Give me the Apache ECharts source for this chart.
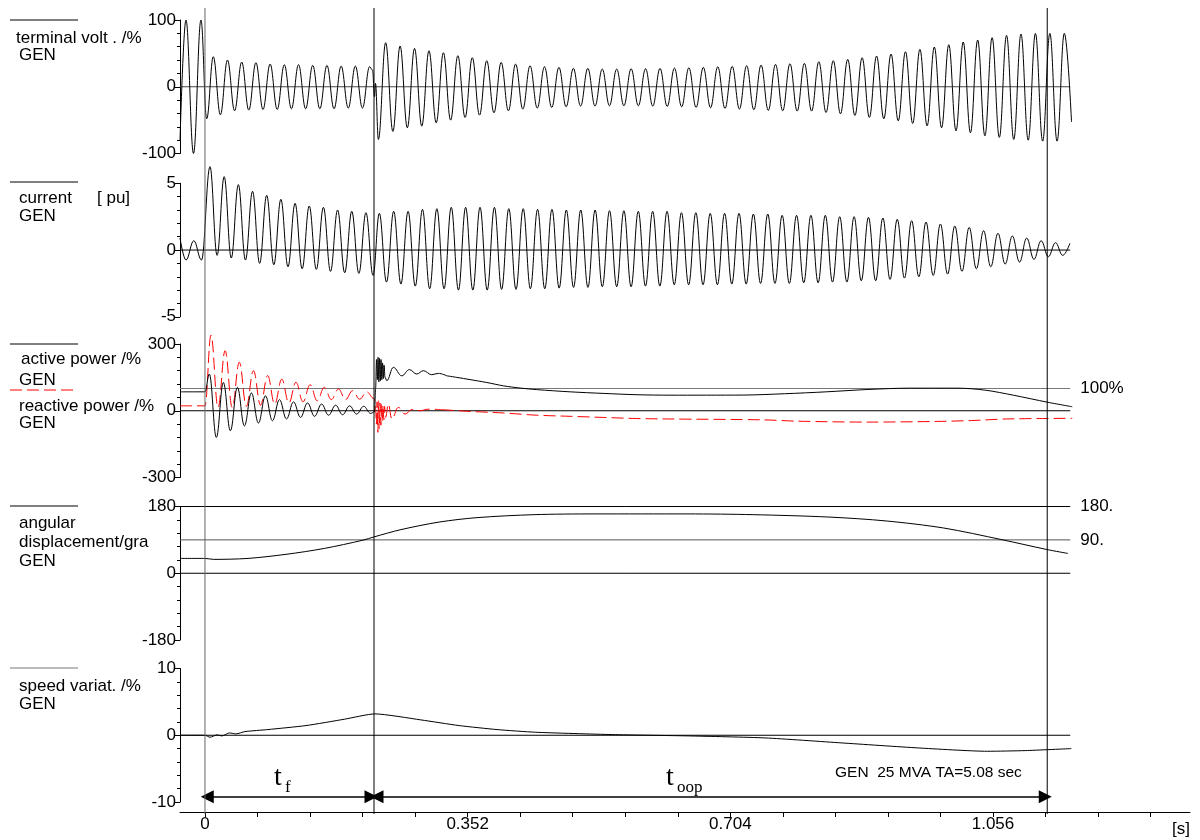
<!DOCTYPE html>
<html><head><meta charset="utf-8">
<script src="https://cdn.jsdelivr.net/npm/echarts@6/dist/echarts.min.js"></script>
<style>html,body{margin:0;padding:0;background:#fff}#c{width:1200px;height:840px}</style>
</head><body><div id="c"></div>
<script>
// ---------------- axis / tick data ----------------
const xLabelValues = [0, 0.352, 0.704, 1.056];
const xTickValues = [0, 0.0704, 0.1408, 0.2112, 0.2816, 0.352, 0.4224, 0.4928, 0.5632, 0.6336, 0.704, 0.7744, 0.8448, 0.9152, 0.9856, 1.056, 1.1264, 1.1968, 1.2672];
const yLimits = [100, 5, 300, 180, 10];
const eventTimes = [0, 0.2265, 1.1287];
const refEnd = 1.1595;
const tfSpan = [0.003, 0.2225];
const toopSpan = [0.2305, 1.126];
const arrowLevel = -9.2;

// ---------------- terminal voltage (%) ----------------
const voltPre = [[-0.0335,-80],[-0.0255,100],[-0.0154,-100],[-0.0054,100],[0.0023,-48]];
const voltFaultStart = 0.0111, voltFaultStep = 0.00952;
const voltFault = [45,-42,40,-36,37,-35,36,-34,34,-34,33,-33,33,-33,32,-33,32,-33,31,-32,31,-32,30];
const voltSwitch = [[0.2245,25],[0.2272,-15],[0.2285,5],[0.2323,-79]];
const voltPostStart = 0.2421, voltPostStep = 0.009675;
const voltPost = [66,-67,61,-61.5,57.5,-59,54,-54,51,-50,46.5,-46,43.5,-42.5,39,-39,36.5,-36,34,-33.5,
  31.5,-32,30,-31,29,-30,27.5,-29,27.5,-29,26.5,-28.5,26.5,-28.5,27,-28.5,27,-29,27.5,-29.5,
  28,-30,28.5,-31,29,-31.5,30,-32.5,30.5,-33.5,31.5,-34.5,32.5,-35.5,33.5,-36,34.5,-36.5,35,-36.5,
  37.5,-38.5,39,-40.5,41,-43,43.5,-46,46,-48,49,-51,52.5,-55,56,-58.5,59.5,-61.5,63,-66,
  67,-69,70,-73.5,73.5,-76,77,-79,79,-80,80,-81.5,80,-81.5,80,-52.5];

// ---------------- current (pu) ----------------
const curPre = [[-0.0335,0.9],[-0.0255,-0.75],[-0.0150,0.7],[-0.0047,-0.75]];
const curFaultStart = 0.0067, curFaultStep = 0.0095;
const curFault = [6.25,-0.4,5.5,-0.6,4.9,-0.75,4.4,-1.0,4.1,-1.1,3.8,-1.25,3.5,-1.4,3.3,-1.45,3.2,-1.6,3.0,-1.7,2.9,-1.75,2.8,-1.9];
const curPostStart = 0.2336, curPostStep = 0.00964;
const curPost = [2.75,-2.4,2.9,-2.55,2.9,-2.7,3.05,-2.9,3.1,-2.9,3.2,-3.0,3.2,-3.0,3.2,-3.0,3.2,-2.95,3.1,-2.95,
  3.1,-2.9,3.05,-2.9,3.05,-2.85,3.0,-2.8,3.0,-2.8,3.0,-2.75,2.95,-2.75,2.95,-2.75,2.9,-2.7,2.9,-2.7,
  2.9,-2.6,2.8,-2.6,2.8,-2.6,2.75,-2.6,2.75,-2.55,2.75,-2.55,2.7,-2.5,2.7,-2.5,2.6,-2.5,2.6,-2.45,
  2.6,-2.45,2.6,-2.4,2.5,-2.4,2.5,-2.3,2.45,-2.3,2.4,-2.2,2.3,-2.1,2.2,-2.0,2.1,-1.9,1.95,-1.8,
  1.8,-1.6,1.7,-1.4,1.45,-1.25,1.25,-1.05,1.05,-0.9,0.9,-0.7,0.7,-0.5,0.55,-0.4,0.5];

// ---------------- active power (%) ----------------
const actPre = [[-0.0335,85],[0,85]];
const actFaultStart = 0.0058, actFaultStep = 0.0094;
const actFault = [165,-120,127,-90,105,-68,80,-55,67,-45,50,-37,40,-30,35,-25,30,-20,25,-18,22,-15,20,-12];
const actOsc = [[0.2272,-5],[0.2286,100],[0.2299,230],[0.2310,140],[0.2319,240],[0.2330,130],[0.2339,235],[0.2350,135],
  [0.2359,230],[0.2370,140],[0.2379,215],[0.2390,145],[0.2399,205],[0.2413,150],[0.2436,135],[0.2524,195],
  [0.2637,157],[0.2739,185],[0.2838,165],[0.2926,180],[0.3039,162],[0.3127,168],[0.3240,157]];
const actSlow = [[0.3240,157],[0.3374,150],[0.3552,140],[0.3776,127],[0.3999,112],[0.4223,102],[0.4446,95],
  [0.4893,85],[0.5335,78],[0.5791,72],[0.6233,70],[0.7212,70.5],[0.7769,76.5],[0.8324,85],[0.8883,95.6],
  [0.9437,101.5],[1.0090,101.5],[1.0456,92.6],[1.0831,70],[1.1296,38],[1.1622,18]];

// ---------------- reactive power (%) ----------------
const reaPre = [[-0.0335,22],[0,22]];
const reaFaultStart = 0.008, reaFaultStep = 0.00949;
const reaFault = [340,15,270,15,218,20,180,25,158,30,142,35,128,40,117,45,105,50,98,50,90,52,85,55];
const reaOsc = [[0.2272,50],[0.2286,10],[0.2297,-60],[0.2306,40],[0.2316,-97],[0.2326,45],[0.2336,-80],[0.2346,35],
  [0.2357,-65],[0.2366,30],[0.2377,-50],[0.2386,25],[0.2397,-40],[0.2406,20],[0.2420,-30],[0.2457,30],
  [0.2503,-37],[0.2591,15],[0.2681,-15],[0.2771,5],[0.2882,0],[0.2993,7],[0.3173,5]];
const reaSlow = [[0.3173,5],[0.3552,-3],[0.3999,-10],[0.4446,-20],[0.4893,-25],[0.5339,-30],[0.5787,-35],
  [0.6233,-37],[0.7493,-41],[0.7949,-47],[0.8887,-51],[0.9812,-48],[1.0275,-44],[1.0737,-37],[1.1622,-34]];

// ---------------- angular displacement (deg) ----------------
const angData = [[-0.0335,40],[0,40],[0.0117,37.4],[0.0576,40],[0.1086,51],[0.1601,67],[0.2113,89],[0.2265,98],
  [0.2625,117.6],[0.3137,138],[0.3646,150],[0.4410,158],[0.5228,160],[0.6472,160],[0.7342,158],[0.8365,151.5],
  [0.9129,141],[0.9899,122],[1.0668,91],[1.1282,64],[1.1563,53.5]];

// ---------------- speed variation (%) ----------------
const spdData = [[-0.0335,0],[0,0],[0.0067,-0.3],[0.0161,0.05],[0.0228,-0.1],[0.0328,0.35],[0.0416,0.2],[0.0536,0.55],
  [0.0842,0.85],[0.1354,1.45],[0.1867,2.4],[0.2277,3.2],[0.2893,2.3],[0.3405,1.45],[0.3914,0.85],[0.4432,0.45],
  [0.5456,0.1],[0.6483,-0.1],[0.7507,-0.4],[0.8534,-1.15],[0.9558,-1.9],[1.0483,-2.4],[1.0992,-2.3],[1.1609,-2.0]];

// ---------------- chart ----------------
const FONT = '"Liberation Sans", Arial, sans-serif';
const SERIF = '"Liberation Serif", "Times New Roman", serif';
const X_MIN = -0.0335, X_MAX = 1.32;
const GRID_TOPS = [20, 183.3, 344, 506.5, 668.5];
const GRID_H = 133.5;

function wave(t0, dt, vals) { return vals.map((v, i) => [+(t0 + i * dt).toFixed(5), v]); }

const voltData = voltPre.concat(wave(voltFaultStart, voltFaultStep, voltFault), voltSwitch, wave(voltPostStart, voltPostStep, voltPost));
const curData = curPre.concat(wave(curFaultStart, curFaultStep, curFault), wave(curPostStart, curPostStep, curPost));
const actOscData = actPre.concat(wave(actFaultStart, actFaultStep, actFault), actOsc);
const reaOscData = reaPre.concat(wave(reaFaultStart, reaFaultStep, reaFault), reaOsc);

const chart = echarts.init(document.getElementById('c'), null, {renderer: 'canvas'});

const grids = GRID_TOPS.map(t => ({left: 180, right: 10, top: t, height: GRID_H}));
const xAxes = GRID_TOPS.map((t, i) => {
  if (i < 4) return {gridIndex: i, type: 'value', min: X_MIN, max: X_MAX, show: false};
  return {
    gridIndex: i, type: 'value', min: X_MIN, max: X_MAX, offset: 10,
    axisLine: {show: true, onZero: false, lineStyle: {color: '#000', width: 1}},
    axisTick: {show: true, length: 5, customValues: xTickValues, lineStyle: {color: '#000'}},
    axisLabel: {show: true, customValues: xLabelValues, fontSize: 17, color: '#000', fontFamily: FONT, margin: 4},
    splitLine: {show: false}
  };
});
const yAxes = yLimits.map((lim, i) => ({
  gridIndex: i, type: 'value', min: -lim, max: lim, interval: lim,
  axisLine: {show: true, onZero: false, lineStyle: {color: '#000', width: 1}},
  axisTick: {show: true, length: 5, lineStyle: {color: '#000'}},
  minorTick: {show: true, splitNumber: 5, length: 3, lineStyle: {color: '#000'}},
  splitLine: {show: false}, minorSplitLine: {show: false},
  axisLabel: {fontSize: 17, color: '#000', fontFamily: FONT, margin: 4}
}));

function refLine(i, v, color, label) {
  const s = {
    type: 'line', xAxisIndex: i, yAxisIndex: i, data: [[X_MIN, v], [refEnd, v]],
    symbol: 'none', silent: true, lineStyle: {color: color, width: 1}, z: 1
  };
  if (label) s.endLabel = {show: true, formatter: label, distance: 10, fontSize: 17, color: '#000', fontFamily: FONT};
  return s;
}
function sig(i, data, opts) {
  return Object.assign({
    type: 'line', xAxisIndex: i, yAxisIndex: i, data: data, symbol: 'none', silent: true, clip: false,
    smooth: 0.4, smoothMonotone: 'x', lineStyle: {color: '#000', width: 1}, z: 3
  }, opts || {});
}
const redDash = {color: '#ff0000', width: 1, type: [12, 5]};

const series = [
  refLine(0, 0, '#444'),
  sig(0, voltData),
  refLine(1, 0, '#000'),
  sig(1, curData),
  refLine(2, 100, '#777', '100%'),
  refLine(2, 0, '#000'),
  sig(2, reaOscData, {lineStyle: redDash}),
  sig(2, reaSlow, {lineStyle: redDash, smooth: 0.3, smoothMonotone: null}),
  sig(2, actOscData),
  sig(2, actSlow, {smooth: 0.3, smoothMonotone: null}),
  refLine(3, 180, '#000', '180.'),
  refLine(3, 90, '#555', '90.'),
  refLine(3, 0, '#000'),
  sig(3, angData, {smooth: 0.3, smoothMonotone: null}),
  refLine(4, 0, '#000'),
  sig(4, spdData, {smooth: 0.2, smoothMonotone: null,
    markLine: {
      silent: true, symbol: ['triangle', 'triangle'], symbolSize: 13, label: {show: false},
      lineStyle: {color: '#000', width: 1.5, type: 'solid'},
      data: [
        [{coord: [tfSpan[0], arrowLevel]}, {coord: [tfSpan[1], arrowLevel]}],
        [{coord: [toopSpan[0], arrowLevel]}, {coord: [toopSpan[1], arrowLevel]}]
      ]
    }})
];

function txt(x, y, s, extra) {
  return {type: 'text', x: x, y: y, silent: true,
    style: Object.assign({text: s, fill: '#000', font: '17px ' + FONT, textVerticalAlign: 'middle'}, extra || {})};
}
function seg(x1, y, x2, stroke, dash) {
  return {type: 'line', silent: true, shape: {x1: x1, y1: y, x2: x2, y2: y},
    style: {stroke: stroke, lineWidth: 1, lineDash: dash || null}};
}
const graphics = [
  seg(10, 20, 78, '#000'),
  txt(16, 38, 'terminal volt . /%'), txt(19, 55, 'GEN'),
  seg(10, 182, 78, '#000'),
  txt(19, 198, 'current'), txt(97, 198, '[ pu]'), txt(19, 216, 'GEN'),
  seg(10, 344, 78, '#000'),
  txt(21, 359, 'active power /%'), txt(19, 380, 'GEN'),
  seg(10, 390, 78, '#ff0000', [12, 5]),
  txt(19, 406, 'reactive power /%'), txt(19, 423, 'GEN'),
  seg(10, 506, 78, '#000'),
  txt(19, 523, 'angular'), txt(19, 542, 'displacement/gra'), txt(19, 561, 'GEN'),
  seg(10, 668, 78, '#777'),
  txt(19, 686, 'speed variat. /%'), txt(19, 704, 'GEN'),
  txt(835, 773, 'GEN  25 MVA TA=5.08 sec', {font: '15.5px ' + FONT}),
  txt(1172, 829, '[s]'),
  txt(274, 778, 't', {font: '28px ' + SERIF}),
  txt(285, 788, 'f', {font: '17px ' + SERIF}),
  txt(666, 778, 't', {font: '28px ' + SERIF}),
  txt(677, 788, 'oop', {font: '17px ' + SERIF})
];

const option = {
  animation: false,
  backgroundColor: '#fff',
  grid: grids, xAxis: xAxes, yAxis: yAxes, series: series,
  graphic: {elements: graphics}
};
chart.setOption(option);

// vertical event lines positioned through the x scale
const evLines = eventTimes.map((t, k) => {
  const px = chart.convertToPixel({xAxisIndex: 4}, t);
  return {type: 'line', silent: true, z: 10,
    shape: {x1: px, y1: 8, x2: px, y2: 814},
    style: {stroke: k === 0 ? '#666' : '#000', lineWidth: 1}};
});
option.graphic = {elements: graphics.concat(evLines)};
chart.setOption(option, true);
</script>
</body></html>
